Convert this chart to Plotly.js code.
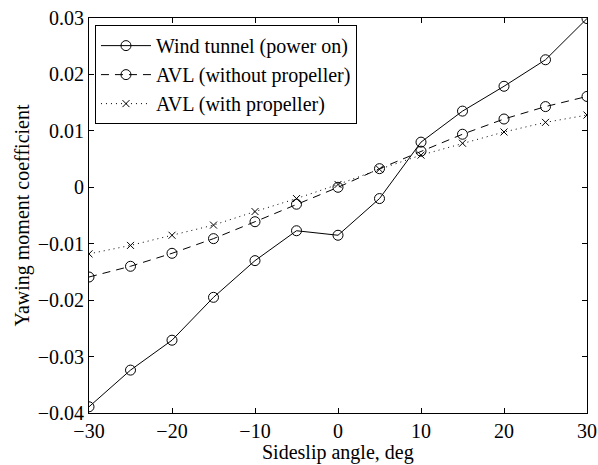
<!DOCTYPE html>
<html><head><meta charset="utf-8">
<script src="https://cdn.plot.ly/plotly-3.0.1.min.js"></script>
<style>body{margin:0;background:#fff}#chart{width:598px;height:465px}</style>
</head><body><div id="chart"></div>
<script>
const beta = [-30, -25, -20, -15, -10, -5, 0, 5, 10, 15, 20, 25, 30];
const windTunnel = [-0.0389, -0.0324, -0.0271, -0.0195, -0.0130, -0.0077, -0.0085, -0.0020, 0.0080, 0.0135, 0.0179, 0.0226, 0.0299];
const avlNoProp = [-0.0159, -0.0140, -0.0117, -0.0091, -0.0061, -0.0030, 0.0000, 0.0033, 0.0064, 0.0094, 0.0121, 0.0143, 0.0161];
const avlProp = [-0.0118, -0.0103, -0.0085, -0.0067, -0.0043, -0.0020, 0.0005, 0.0032, 0.0057, 0.0078, 0.0098, 0.0115, 0.0128];
const names = ['Wind tunnel (power on)', 'AVL (without propeller)', 'AVL (with propeller)'];
const xTicks = [-30, -20, -10, 0, 10, 20, 30];
const xTickText = ['\u221230', '\u221220', '\u221210', '0', '10', '20', '30'];
const yTicks = [-0.04, -0.03, -0.02, -0.01, 0, 0.01, 0.02, 0.03];
const yTickText = ['\u22120.04', '\u22120.03', '\u22120.02', '\u22120.01', '0', '0.01', '0.02', '0.03'];
const xTitle = 'Sideslip angle, deg';
const yTitle = 'Yawing moment coefficient';

const font = 'Liberation Serif, Times New Roman, serif';
const traces = [
  {x: beta, y: windTunnel, name: names[0], mode: 'lines+markers',
   line: {color: '#000', width: 1, dash: 'solid'},
   marker: {symbol: 'circle-open', size: 10, color: '#000', line: {width: 1, color: '#000'}}},
  {x: beta, y: avlNoProp, name: names[1], mode: 'lines+markers',
   line: {color: '#000', width: 1, dash: '8px,6px'},
   marker: {symbol: 'circle-open', size: 10, color: '#000', line: {width: 1, color: '#000'}}},
  {x: beta, y: avlProp, name: names[2], mode: 'lines+markers',
   line: {color: '#000', width: 1, dash: '1px,4px'},
   marker: {symbol: 'x-thin-open', size: 7, color: '#000', line: {width: 1, color: '#000'}}}
];
const axisCommon = {
  showgrid: false, zeroline: false, showline: true, linecolor: '#000', linewidth: 1,
  mirror: 'ticks', ticks: 'inside', ticklen: 5, tickcolor: '#000', tickwidth: 1,
  tickfont: {family: font, size: 20, color: '#000'}
};
const layout = {
  width: 598, height: 465,
  margin: {l: 89, r: 11, t: 18, b: 52},
  paper_bgcolor: '#fff', plot_bgcolor: '#fff',
  font: {family: font, color: '#000'},
  showlegend: true,
  legend: {x: 0.012, y: 0.982, xanchor: 'left', yanchor: 'top',
    bordercolor: '#000', borderwidth: 1, bgcolor: '#fff', itemwidth: 50,
    font: {family: font, size: 20, color: '#000'}, tracegroupgap: 0},
  xaxis: Object.assign({}, axisCommon, {range: [-30, 30], tickvals: xTicks, ticktext: xTickText}),
  yaxis: Object.assign({}, axisCommon, {range: [-0.04, 0.03], tickvals: yTicks, ticktext: yTickText,
    title: {text: yTitle, font: {family: font, size: 20, color: '#000'}, standoff: 2}}),
  annotations: [{text: xTitle, xref: 'paper', yref: 'paper', x: 0.5, y: 0,
    xanchor: 'center', yanchor: 'middle', yshift: -39, showarrow: false,
    font: {family: font, size: 20, color: '#000'}}]
};
Plotly.newPlot('chart', traces, layout, {displayModeBar: false, staticPlot: true});
</script></body></html>
